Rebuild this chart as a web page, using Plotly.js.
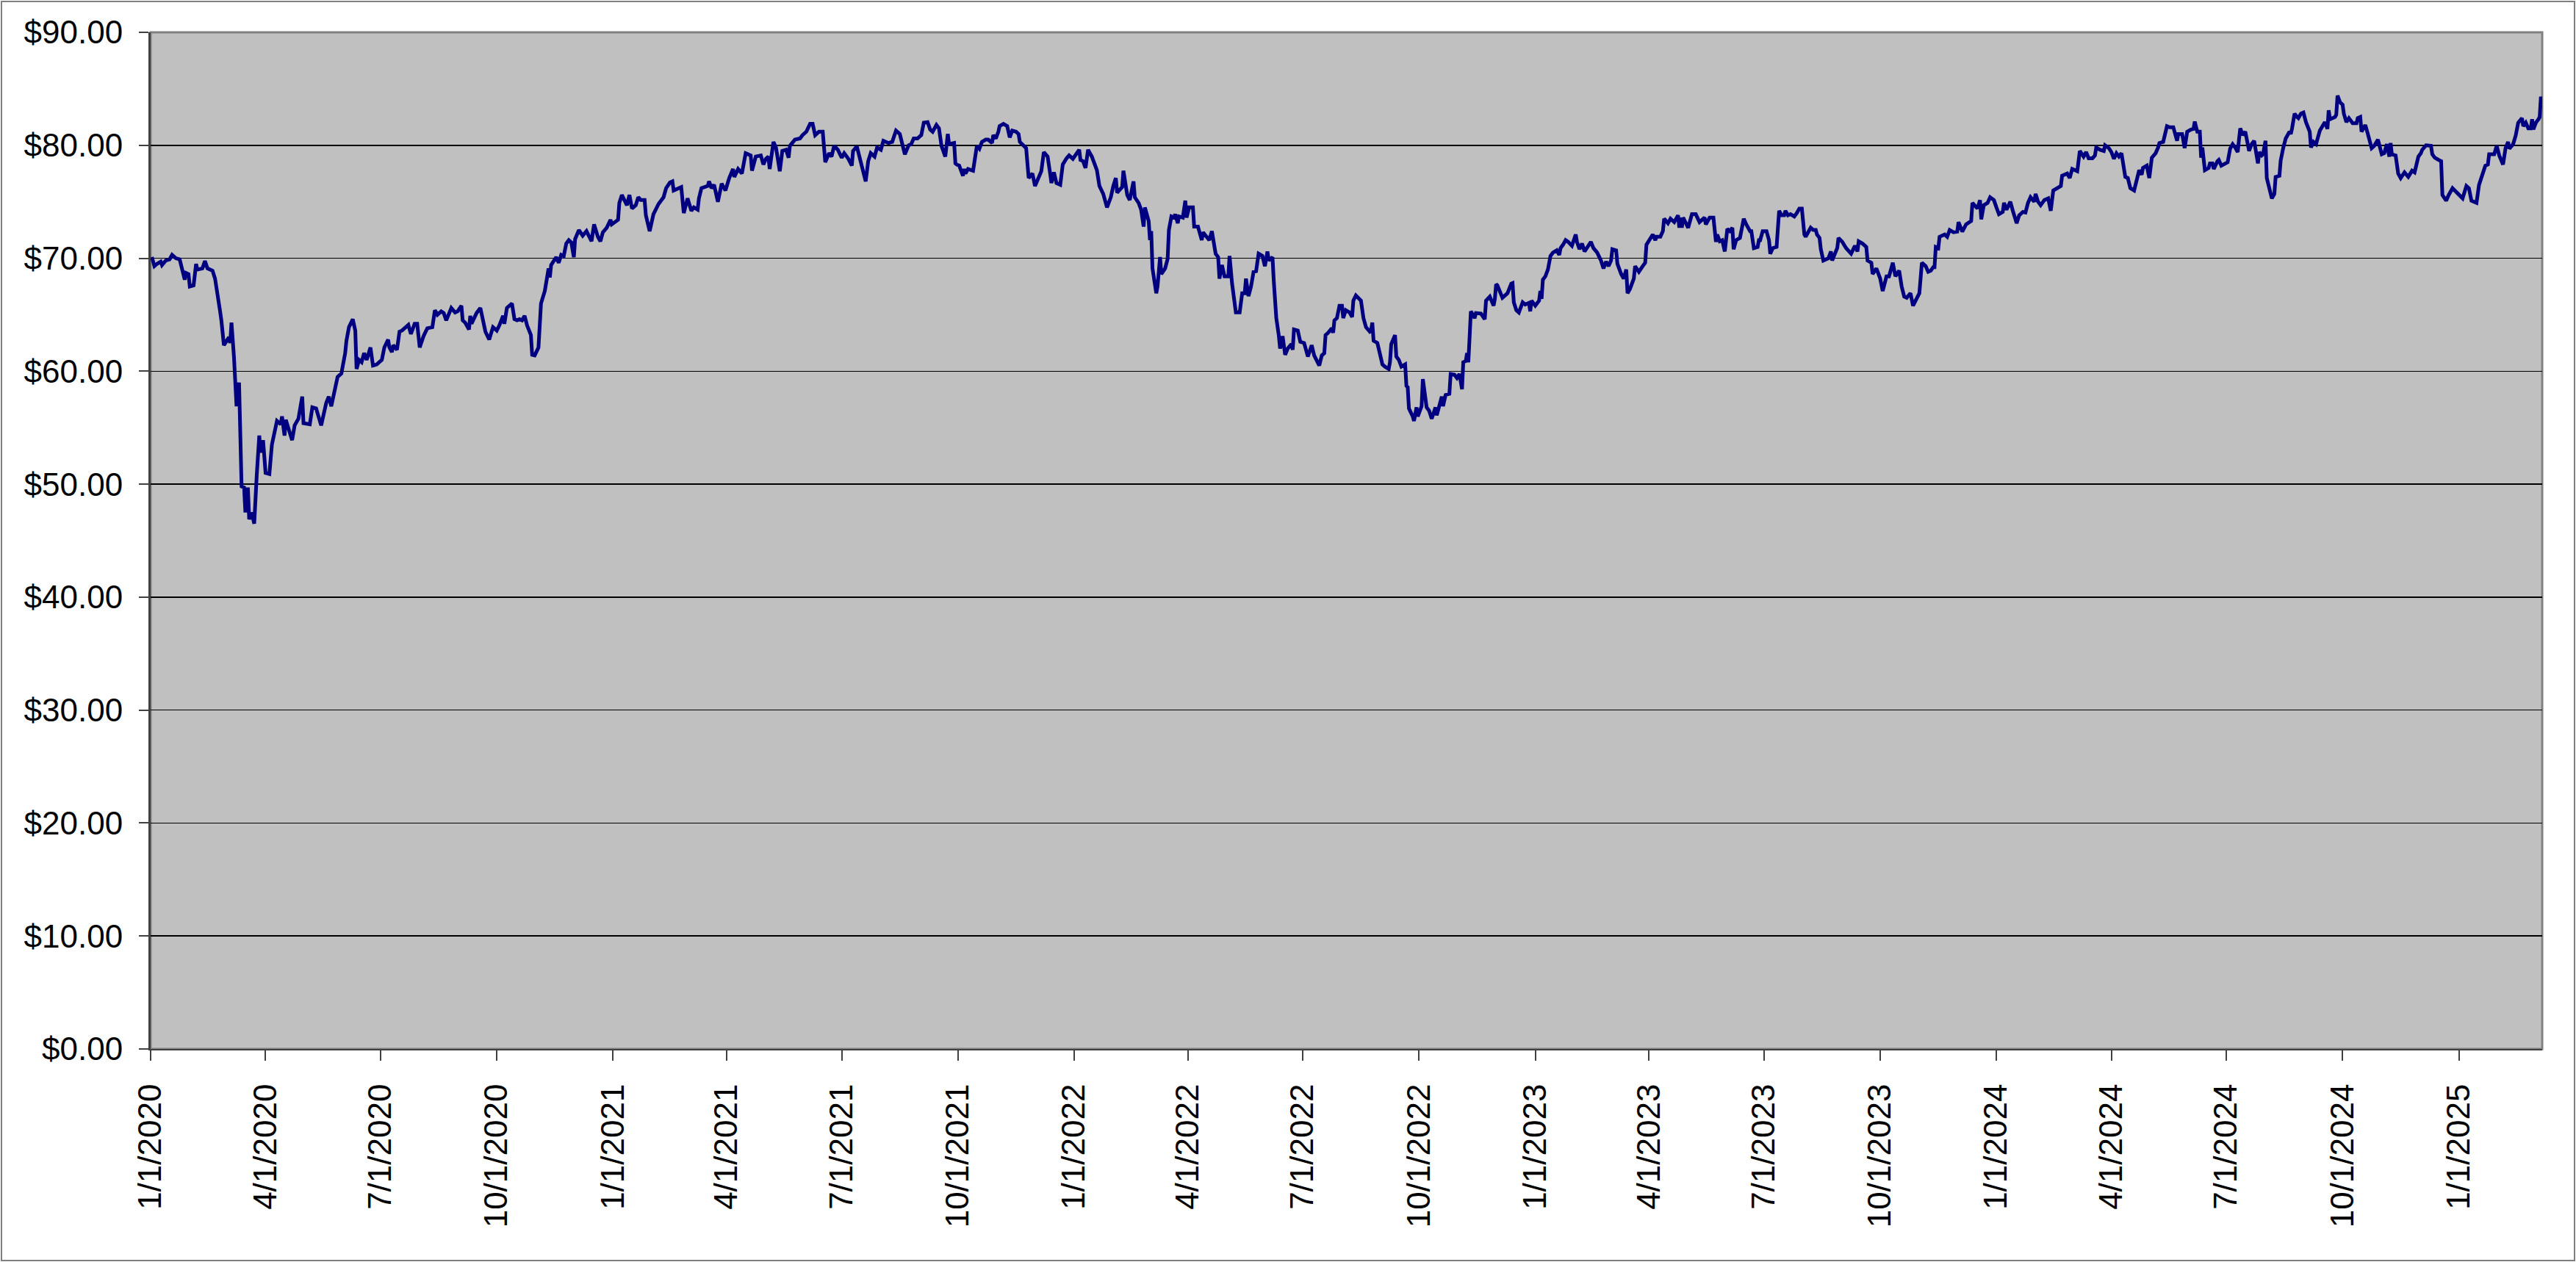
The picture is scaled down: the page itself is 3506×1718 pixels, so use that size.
<!DOCTYPE html>
<html>
<head>
<meta charset="utf-8">
<title>Price history</title>
<script src="https://cdn.plot.ly/plotly-3.0.1.min.js"></script>
<style>
  html, body { margin: 0; padding: 0; background: #ffffff; }
  #wrap { position: relative; width: 3506px; height: 1718px; }
  #chart { width: 3506px; height: 1718px; }
  #frame {
    position: absolute; left: 1px; top: 1px; width: 3504px; height: 1716px;
    box-sizing: border-box; border: 2px solid #7f7f7f; pointer-events: none;
  }
</style>
</head>
<body>
<div id="wrap">
  <div id="chart"></div>
  <div id="frame"></div>
</div>
<script>
// day offsets from 1/1/2020
const tradeDays = [
  1, 3, 5, 8, 9, 12, 15, 17, 20, 23,
  27, 28, 30, 31, 34, 36, 37, 41, 43, 45,
  49, 51, 55, 56, 58, 62, 63, 64, 66, 68,
  70, 71, 72, 74, 75, 77, 78, 80, 82, 84,
  86, 87, 89, 91, 94, 96, 99, 100, 103, 104,
  106, 107, 112, 114, 117, 120, 121, 126, 128, 131,
  135, 139, 141, 143, 148, 151, 154, 155, 157, 160,
  162, 163, 165, 167, 169, 171, 174, 176, 179, 183,
  185, 188, 189, 191, 192, 195, 197, 199, 204, 206,
  209, 211, 213, 216, 219, 223, 225, 227, 230, 232,
  234, 238, 241, 243, 246, 247, 249, 252, 253, 254,
  258, 261, 265, 268, 271, 274, 276, 279, 280, 282,
  286, 288, 290, 292, 294, 296, 298, 301, 302, 304,
  307, 308, 309, 312, 315, 316, 317, 321, 323, 325,
  327, 329, 331, 333, 335, 336, 339, 342, 345, 349,
  351, 354, 356, 358, 361, 364, 365, 370, 371, 373,
  377, 379, 381, 384, 386, 388, 391, 392, 395, 398,
  400, 402, 406, 408, 411, 413, 414, 418, 420, 422,
  425, 428, 430, 433, 434, 436, 441, 442, 444, 446,
  449, 452, 455, 458, 461, 462, 465, 468, 471, 475,
  476, 479, 483, 485, 487, 489, 490, 493, 495, 498,
  500, 503, 505, 506, 510, 514, 516, 519, 522, 524,
  526, 529, 532, 534, 537, 539, 541, 544, 547, 549,
  552, 555, 556, 559, 561, 566, 568, 570, 573, 575,
  578, 580, 584, 587, 590, 593, 597, 600, 602, 604,
  607, 610, 612, 615, 617, 619, 622, 624, 626, 629,
  631, 632, 636, 637, 638, 640, 642, 643, 644, 645,
  647, 651, 654, 656, 658, 661, 663, 666, 667, 669,
  671, 672, 675, 678, 680, 682, 685, 687, 688, 693,
  695, 698, 700, 703, 705, 707, 710, 712, 713, 715,
  717, 720, 722, 725, 727, 730, 732, 735, 736, 738,
  740, 742, 745, 747, 749, 751, 754, 757, 760, 762,
  764, 765, 767, 769, 770, 773, 775, 778, 779, 782,
  784, 786, 787, 790, 791, 792, 793, 795, 796, 797,
  799, 800, 803, 805, 806, 808, 810, 811, 813, 814,
  817, 819, 820, 822, 825, 826, 829, 830, 832, 833,
  836, 838, 840, 843, 845, 846, 848, 850, 853, 854,
  856, 859, 862, 864, 866, 867, 869, 871, 873, 875,
  877, 880, 882, 884, 885, 888, 889, 891, 893, 894,
  896, 898, 900, 903, 904, 905, 908, 910, 913, 916,
  919, 921, 925, 927, 929, 930, 932, 935, 936, 937,
  939, 941, 943, 944, 946, 949, 951, 952, 954, 957,
  958, 960, 962, 965, 966, 967, 968, 971, 973, 975,
  977, 980, 981, 982, 985, 986, 988, 990, 993, 994,
  995, 996, 999, 1000, 1002, 1003, 1006, 1007, 1010, 1012,
  1014, 1017, 1018, 1021, 1022, 1023, 1025, 1028, 1029, 1032,
  1034, 1036, 1038, 1039, 1041, 1042, 1043, 1044, 1045, 1048,
  1049, 1053, 1056, 1057, 1060, 1063, 1064, 1065, 1066, 1070,
  1074, 1077, 1078, 1079, 1081, 1083, 1086, 1088, 1091, 1092,
  1093, 1096, 1099, 1100, 1101, 1102, 1104, 1106, 1108, 1110,
  1113, 1115, 1116, 1118, 1120, 1122, 1125, 1128, 1129, 1131,
  1133, 1135, 1137, 1140, 1142, 1145, 1148, 1150, 1152, 1154,
  1156, 1157, 1160, 1161, 1164, 1166, 1168, 1169, 1171, 1174,
  1175, 1178, 1181, 1183, 1184, 1187, 1189, 1191, 1192, 1195,
  1197, 1198, 1201, 1203, 1206, 1209, 1210, 1211, 1212, 1213,
  1217, 1218, 1220, 1223, 1226, 1230, 1231, 1234, 1237, 1239,
  1240, 1242, 1244, 1246, 1248, 1250, 1252, 1253, 1255, 1258,
  1261, 1263, 1266, 1267, 1269, 1272, 1273, 1274, 1276, 1279,
  1281, 1282, 1284, 1287, 1289, 1291, 1293, 1294, 1296, 1298,
  1301, 1303, 1305, 1307, 1309, 1310, 1314, 1316, 1318, 1319,
  1321, 1322, 1324, 1328, 1330, 1331, 1334, 1335, 1336, 1339,
  1342, 1346, 1349, 1351, 1352, 1355, 1358, 1359, 1362, 1363,
  1366, 1369, 1371, 1374, 1376, 1379, 1381, 1384, 1386, 1388,
  1390, 1393, 1395, 1398, 1400, 1402, 1405, 1407, 1409, 1411,
  1412, 1413, 1415, 1416, 1420, 1422, 1424, 1427, 1430, 1431,
  1434, 1437, 1441, 1442, 1445, 1446, 1448, 1449, 1451, 1454,
  1456, 1459, 1461, 1463, 1466, 1467, 1469, 1472, 1474, 1477,
  1479, 1482, 1484, 1486, 1488, 1491, 1492, 1494, 1496, 1499,
  1502, 1504, 1506, 1509, 1512, 1513, 1517, 1519, 1521, 1525,
  1527, 1530, 1532, 1534, 1537, 1539, 1540, 1543, 1546, 1547,
  1550, 1552, 1554, 1556, 1558, 1560, 1563, 1565, 1567, 1570,
  1572, 1574, 1576, 1577, 1580, 1582, 1584, 1587, 1589, 1590,
  1593, 1596, 1598, 1601, 1603, 1604, 1605, 1608, 1610, 1612,
  1615, 1617, 1618, 1620, 1622, 1623, 1624, 1626, 1629, 1630,
  1632, 1633, 1636, 1637, 1639, 1641, 1644, 1646, 1648, 1650,
  1652, 1653, 1654, 1656, 1658, 1661, 1663, 1665, 1668, 1669,
  1671, 1672, 1674, 1675, 1677, 1679, 1681, 1682, 1685, 1686,
  1688, 1690, 1693, 1694, 1695, 1697, 1699, 1700, 1702, 1704,
  1706, 1709, 1710, 1712, 1714, 1715, 1717, 1721, 1722, 1723,
  1724, 1725, 1729, 1730, 1731, 1733, 1735, 1736, 1738, 1740,
  1743, 1746, 1747, 1749, 1750, 1753, 1755, 1758, 1760, 1763,
  1766, 1768, 1770, 1772, 1773, 1774, 1777, 1779, 1781, 1784,
  1787, 1790, 1792, 1795, 1797, 1798, 1801, 1805, 1806, 1808,
  1811, 1813, 1814, 1817, 1819, 1822, 1826, 1828, 1830, 1833,
  1835, 1837, 1841, 1843, 1845, 1848, 1850, 1851, 1855, 1857,
  1859, 1862, 1864, 1866, 1867, 1870, 1872, 1873, 1874, 1877,
  1878, 1880, 1882, 1884, 1885, 1886, 1888, 1890, 1891, 1892,
  1893
];

const closePrices = [
  70.1, 69.3, 69.5, 69.7, 69.4, 69.8, 69.9, 70.3, 70.0, 69.9,
  68.1, 68.7, 68.6, 67.5, 67.6, 69.5, 69.0, 69.1, 69.75, 69.1,
  68.9, 68.2, 65.3, 64.5, 62.3, 63.0, 62.5, 64.3, 61.2, 56.9,
  59.0, 54.9, 49.8, 49.7, 47.5, 49.7, 46.9, 47.5, 46.5, 50.8,
  54.3, 52.8, 53.9, 51.0, 50.9, 53.5, 55.3, 55.6, 55.3, 56.0,
  54.3, 55.7, 53.9, 55.2, 55.8, 57.75, 55.4, 55.3, 56.8, 56.7,
  55.2, 57.2, 57.75, 56.9, 59.5, 59.8, 61.6, 62.7, 63.9, 64.6,
  63.6, 60.2, 61.0, 60.8, 61.6, 61.0, 62.1, 60.5, 60.6, 61.0,
  62.1, 62.8, 62.1, 61.7, 62.3, 61.9, 63.5, 63.6, 64.1, 63.3,
  64.2, 64.2, 62.1, 63.1, 63.8, 63.9, 65.4, 65.0, 65.3, 65.15,
  64.5, 65.6, 65.2, 65.3, 65.8, 64.5, 64.3, 63.7, 64.9, 64.2,
  65.15, 65.6, 63.5, 62.8, 63.9, 63.6, 64.05, 64.9, 64.2, 65.6,
  66.0, 64.6, 64.5, 64.6, 64.5, 64.9, 64.05, 63.2, 61.45, 61.4,
  62.1, 64.05, 66.0, 67.1, 69.1, 68.3, 69.4, 70.1, 69.6, 70.3,
  70.2, 71.3, 71.6, 71.4, 70.1, 71.7, 72.5, 72.0, 72.4, 71.5,
  73.0, 71.9, 71.5, 72.3, 72.7, 73.4, 73.0, 73.4, 74.9, 75.6,
  74.7, 75.6, 74.4, 74.7, 75.4, 75.15, 75.15, 73.8, 72.4, 73.9,
  74.3, 74.8, 75.4, 76.2, 76.7, 76.8, 76.0, 76.2, 76.3, 74.0,
  75.3, 74.2, 74.5, 74.3, 75.3, 76.2, 76.4, 76.8, 76.2, 76.5,
  75.0, 76.6, 76.0, 77.1, 77.9, 77.2, 77.9, 77.5, 79.3, 79.1,
  77.75, 79.0, 79.1, 78.3, 78.8, 79.0, 77.9, 80.3, 79.8, 77.7,
  79.5, 79.6, 78.9, 79.95, 80.5, 80.6, 80.9, 81.2, 81.9, 81.9,
  80.9, 81.2, 81.2, 78.5, 79.3, 79.0, 79.95, 79.6, 78.9, 79.3,
  78.85, 78.2, 79.5, 79.9, 79.0, 76.8, 78.6, 79.3, 79.0, 79.8,
  79.6, 80.4, 80.2, 80.3, 81.3, 81.0, 79.2, 80.0, 80.1, 80.6,
  80.6, 80.9, 82.0, 82.05, 81.4, 81.2, 81.8, 81.5, 79.95, 79.0,
  81.0, 80.1, 80.2, 78.4, 78.3, 78.2, 77.6, 77.3, 77.9, 77.5,
  77.9, 77.75, 79.95, 79.7, 80.3, 80.5, 80.5, 80.2, 80.9, 80.6,
  81.2, 81.7, 81.9, 81.7, 80.7, 81.3, 81.2, 81.0, 80.3, 79.75,
  77.1, 77.5, 76.4, 77.3, 77.7, 79.4, 79.0, 77.5, 76.65, 77.6,
  76.65, 76.5, 78.3, 78.85, 79.1, 78.8, 79.1, 79.6, 78.7, 78.6,
  78.0, 79.6, 79.0, 78.4, 77.8, 76.4, 75.7, 74.5, 75.4, 76.4,
  77.1, 75.8, 76.0, 76.3, 77.75, 75.6, 75.15, 76.8, 75.4, 74.9,
  74.3, 72.8, 74.5, 73.3, 71.6, 72.4, 69.1, 67.3, 66.9, 67.5,
  70.1, 68.6, 69.1, 69.95, 72.5, 73.7, 73.6, 73.9, 73.1, 73.7,
  73.6, 75.1, 73.6, 74.5, 74.5, 72.8, 72.8, 72.4, 71.6, 72.3,
  71.9, 71.6, 72.4, 70.4, 70.1, 68.2, 69.4, 68.4, 68.4, 70.2,
  67.75, 65.2, 65.2, 66.9, 66.9, 68.2, 66.65, 67.5, 68.8, 68.85,
  70.4, 70.2, 69.3, 70.6, 69.8, 70.1, 68.0, 64.7, 63.15, 62.0,
  63.1, 61.45, 62.0, 62.4, 61.9, 63.7, 63.6, 62.6, 62.5, 61.3,
  62.3, 61.4, 60.5, 61.4, 61.6, 63.2, 63.4, 63.8, 63.4, 64.5,
  64.7, 65.8, 65.8, 64.7, 65.4, 65.2, 64.8, 66.25, 66.7, 66.4,
  66.25, 64.7, 63.9, 63.5, 63.6, 64.3, 62.7, 62.5, 61.7, 60.6,
  60.4, 60.2, 60.8, 62.4, 63.2, 61.3, 61.0, 60.4, 60.6, 58.7,
  58.6, 56.7, 56.0, 55.6, 56.8, 56.0, 56.9, 59.3, 56.8, 56.5,
  55.8, 56.8, 56.1, 57.6, 57.75, 56.9, 57.9, 58.0, 59.75, 59.7,
  59.4, 59.75, 58.4, 60.8, 60.9, 61.6, 60.8, 63.0, 65.3, 64.7,
  65.15, 65.1, 64.6, 66.25, 66.6, 65.8, 66.4, 67.7, 67.6, 66.5,
  66.9, 67.75, 67.8, 66.1, 65.4, 65.2, 66.1, 65.9, 66.05, 65.3,
  66.25, 65.8, 66.25, 67.1, 66.4, 68.1, 68.4, 69.0, 70.2, 70.5,
  70.7, 70.3, 70.9, 71.2, 71.6, 71.45, 71.1, 72.1, 71.45, 70.8,
  71.3, 70.6, 71.0, 71.45, 70.9, 70.5, 69.8, 69.1, 69.7, 69.3,
  69.8, 70.8, 70.7, 69.5, 68.6, 68.2, 69.0, 66.9, 67.3, 68.2,
  69.3, 68.8, 69.3, 69.6, 71.2, 71.8, 72.1, 71.6, 71.9, 71.9,
  72.4, 73.5, 73.1, 73.5, 73.2, 73.8, 72.7, 73.6, 72.7, 73.6,
  72.7, 73.1, 73.9, 73.9, 73.2, 73.6, 73.0, 73.6, 73.6, 71.45,
  72.1, 71.5, 71.6, 70.6, 72.6, 72.4, 72.7, 70.8, 71.6, 71.8,
  73.5, 73.0, 72.4, 72.4, 70.9, 71.0, 71.6, 71.6, 72.4, 72.4,
  71.6, 70.4, 70.9, 71.0, 74.2, 73.8, 73.8, 74.2, 73.8, 73.9,
  73.7, 74.0, 74.4, 74.4, 72.1, 71.9, 72.7, 72.5, 72.5, 72.1,
  71.8, 70.8, 69.8, 70.0, 70.6, 69.8, 70.5, 70.9, 71.8, 71.45,
  70.9, 70.4, 71.1, 70.6, 71.5, 71.3, 71.0, 69.8, 69.6, 68.6,
  69.1, 68.2, 67.1, 68.4, 68.4, 69.6, 68.4, 68.9, 67.5, 66.6,
  66.5, 66.9, 65.8, 66.5, 66.9, 69.6, 69.3, 68.8, 68.9, 69.2,
  69.2, 71.0, 70.9, 71.9, 72.1, 71.9, 72.5, 72.3, 72.35, 73.2,
  72.35, 73.0, 73.3, 74.9, 74.5, 74.4, 75.15, 73.45, 74.7, 74.9,
  75.4, 75.15, 74.5, 73.9, 74.1, 74.9, 74.3, 75.0, 74.2, 73.1,
  73.8, 74.1, 74.05, 74.9, 75.4, 75.0, 75.7, 75.0, 74.7, 75.15,
  75.3, 74.2, 76.0, 76.2, 76.4, 77.3, 77.5, 77.1, 77.9, 77.7,
  79.5, 79.0, 79.4, 78.85, 78.85, 79.1, 79.8, 79.6, 79.5, 80.0,
  79.75, 79.4, 78.8, 79.3, 79.0, 79.3, 77.2, 77.1, 76.2, 76.0,
  76.9, 77.8, 77.4, 78.0, 78.2, 77.1, 78.9, 79.3, 79.8, 80.2,
  80.3, 81.7, 81.6, 81.6, 80.8, 80.4, 81.0, 81.0, 79.75, 81.2,
  81.4, 81.45, 82.1, 81.2, 81.2, 78.9, 79.8, 77.8, 78.0, 78.4,
  78.4, 77.9, 78.6, 78.7, 78.2, 78.3, 78.5, 79.7, 80.1, 79.8,
  79.4, 80.5, 81.5, 80.9, 81.2, 79.5, 80.1, 80.4, 78.4, 79.4,
  79.1, 79.2, 80.4, 77.1, 76.0, 75.3, 75.7, 77.2, 77.3, 78.65,
  79.75, 80.6, 81.2, 81.0, 81.5, 82.8, 82.5, 82.4, 82.8, 82.9,
  82.05, 81.2, 79.8, 80.3, 80.1, 80.5, 81.3, 82.05, 81.8, 81.45,
  83.1, 82.3, 82.5, 82.7, 84.4, 83.8, 83.6, 82.8, 82.05, 82.4,
  81.95, 81.95, 82.4, 82.5, 81.2, 81.8, 81.0, 79.75, 79.95, 80.5,
  79.2, 79.3, 80.1, 79.0, 80.2, 79.2, 79.1, 77.5, 77.1, 77.6,
  77.2, 77.75, 77.6, 79.0, 79.3, 79.6, 80.0, 79.95, 79.2, 78.9,
  78.7, 78.6, 75.6, 75.1, 75.6, 76.2, 75.75, 75.5, 75.3, 76.4,
  76.2, 75.1, 74.9, 76.5, 77.1, 78.2, 78.3, 79.2, 79.2, 79.95,
  79.1, 78.3, 79.75, 80.3, 79.7, 80.1, 80.85, 81.7, 82.0, 82.4,
  81.7, 82.0, 81.5, 81.5, 82.3, 81.4, 82.0, 82.3, 82.5, 84.3,
  83.6
];

const tickDates = [
  '2020-01-01', '2020-04-01', '2020-07-01', '2020-10-01',
  '2021-01-01', '2021-04-01', '2021-07-01', '2021-10-01',
  '2022-01-01', '2022-04-01', '2022-07-01', '2022-10-01',
  '2023-01-01', '2023-04-01', '2023-07-01', '2023-10-01',
  '2024-01-01', '2024-04-01', '2024-07-01', '2024-10-01',
  '2025-01-01'
];
const tickLabels = [
  '1/1/2020', '4/1/2020', '7/1/2020', '10/1/2020',
  '1/1/2021', '4/1/2021', '7/1/2021', '10/1/2021',
  '1/1/2022', '4/1/2022', '7/1/2022', '10/1/2022',
  '1/1/2023', '4/1/2023', '7/1/2023', '10/1/2023',
  '1/1/2024', '4/1/2024', '7/1/2024', '10/1/2024',
  '1/1/2025'
];

if (tradeDays.length !== closePrices.length) {
  console.error('length mismatch', tradeDays.length, closePrices.length);
}

const dayMs = 86400000;
const start = Date.UTC(2020, 0, 1);
function toDate(d) {
  return new Date(start + d * dayMs).toISOString().slice(0, 10);
}
const dates = tradeDays.map(toDate);
const lastDate = dates[dates.length - 1];

const trace = {
  type: 'scatter',
  mode: 'lines',
  x: dates,
  y: closePrices,
  line: { color: '#000080', width: 5 },
  hoverinfo: 'skip'
};

const axisFont = { family: 'Liberation Sans, Arial, sans-serif', size: 44, color: '#000000' };

const layout = {
  width: 3506,
  height: 1718,
  margin: { l: 205, r: 46, t: 44, b: 290, pad: 0 },
  paper_bgcolor: '#ffffff',
  plot_bgcolor: '#c0c0c0',
  showlegend: false,
  font: axisFont,
  xaxis: {
    type: 'date',
    range: ['2020-01-01', lastDate],
    tickmode: 'array',
    tickvals: tickDates,
    ticktext: tickLabels,
    tickangle: -90,
    tickfont: axisFont,
    ticks: 'outside',
    ticklen: 14,
    tickwidth: 2,
    tickcolor: '#404040',
    ticklabelstandoff: 14,
    showgrid: false,
    zeroline: false,
    showline: true,
    linecolor: '#404040',
    linewidth: 2,
    fixedrange: true
  },
  yaxis: {
    range: [0, 90],
    tick0: 0,
    dtick: 10,
    tickprefix: '$',
    tickformat: '.2f',
    tickfont: axisFont,
    ticks: 'outside',
    ticklen: 13,
    tickwidth: 2,
    tickcolor: '#404040',
    ticklabelstandoff: 13,
    showgrid: true,
    gridcolor: '#000000',
    gridwidth: 1.5,
    zeroline: false,
    showline: true,
    linecolor: '#404040',
    linewidth: 3,
    fixedrange: true
  },
  shapes: [{
    type: 'rect', xref: 'paper', yref: 'paper',
    x0: 0, x1: 1, y0: 0, y1: 1,
    line: { color: '#808080', width: 3 },
    layer: 'between'
  }]
};

Plotly.newPlot('chart', [trace], layout, { displayModeBar: false, staticPlot: true });
</script>
</body>
</html>
